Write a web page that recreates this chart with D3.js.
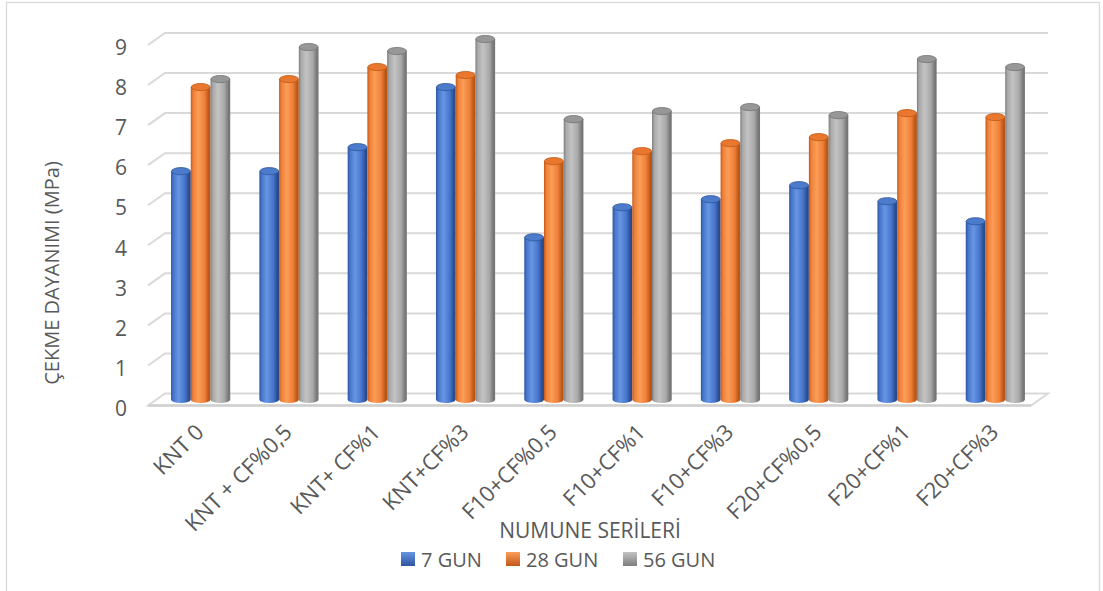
<!DOCTYPE html>
<html>
<head>
<meta charset="utf-8">
<script src="https://cdn.jsdelivr.net/npm/d3@7"></script>
<style>
  html, body { margin: 0; padding: 0; background: #fff; }
  svg { display: block; }
  text { font-family: "Open Sans", "Noto Sans", sans-serif; fill: #595959; }
</style>
</head>
<body>
<script>
// Tensile strength of specimen series at three curing ages
const categories = ["KNT 0", "KNT + CF%0,5", "KNT+ CF%1", "KNT+CF%3", "F10+CF%0,5",
                    "F10+CF%1", "F10+CF%3", "F20+CF%0,5", "F20+CF%1", "F20+CF%3"];
const seriesNames = ["7 GUN", "28 GUN", "56 GUN"];
const gun7  = [5.7, 5.7, 6.3, 7.8, 4.05, 4.8, 5.0, 5.35, 4.95, 4.45];
const gun28 = [7.8, 8.0, 8.3, 8.1, 5.95, 6.2, 6.4, 6.55, 7.15, 7.05];
const gun56 = [8.0, 8.8, 8.7, 9.0, 7.0, 7.2, 7.3, 7.1, 8.5, 8.3];
const yTicks = [0, 1, 2, 3, 4, 5, 6, 7, 8, 9];

const seriesValues = [gun7, gun28, gun56];

const W = 1103, H = 591;
const svg = d3.select("body").append("svg").attr("width", W).attr("height", H);

// palette per series: edge darks, highlight, mid, top face fill/stroke
const palettes = [
  { d0: "#2d549f", hi: "#6896e4", mid: "#4676cc", d1: "#294a8c", top: "#4d7bcc", topS: "#2f5597" },
  { d0: "#c2581a", hi: "#fb9d58", mid: "#ef8038", d1: "#b95516", top: "#e9772e", topS: "#bf5a17" },
  { d0: "#7d7d7d", hi: "#c3c3c3", mid: "#a9a9a9", d1: "#767676", top: "#979797", topS: "#747474" }
];

const defs = svg.append("defs");
palettes.forEach((p, i) => {
  const g = defs.append("linearGradient").attr("id", "cyl" + i)
    .attr("x1", "0%").attr("x2", "100%").attr("y1", "0%").attr("y2", "0%");
  [[0, p.d0], [0.12, p.mid], [0.38, p.hi], [0.7, p.mid], [0.92, p.d1], [1, p.d1]]
    .forEach(([o, c]) => g.append("stop").attr("offset", o).attr("stop-color", c));
  const lg = defs.append("linearGradient").attr("id", "leg" + i)
    .attr("x1", "0%").attr("x2", "0%").attr("y1", "0%").attr("y2", "100%");
  lg.append("stop").attr("offset", 0).attr("stop-color", p.hi);
  lg.append("stop").attr("offset", 1).attr("stop-color", p.d0);
});

// outer chart frame
svg.append("rect").attr("x", 6.5).attr("y", 2.5).attr("width", 1093).attr("height", 620)
  .attr("fill", "none").attr("stroke", "#d9d9d9").attr("stroke-width", 1.3);

// 3D geometry: back wall, depth offset
const backLeft = 165, backRight = 1048;
const depthX = 17, depthY = 12;

// back wall value scale
const yBack = d3.scaleLinear().domain([0, 9]).range([393.5, 33]);
// bars sit half-way in depth
const yMid = d3.scaleLinear().domain([0, 9]).range([393.5 + depthY / 2, 33 + depthY / 2]);

const x0 = d3.scaleBand().domain(categories)
  .range([backLeft - depthX / 2, backRight - depthX / 2])
  .paddingInner(0.33).paddingOuter(0.165);
const x1 = d3.scaleBand().domain(seriesNames).range([0, x0.bandwidth()]);

// gridlines on back wall + left side wall
const grid = svg.append("g").attr("stroke", "#d9d9d9").attr("stroke-width", 2).attr("fill", "none");
yTicks.filter(v => v > 0).forEach(v => {
  const y = yBack(v);
  grid.append("path").attr("d", `M${backLeft - depthX},${y + depthY}L${backLeft},${y}L${backRight},${y}`);
});
// floor
const fy = yBack(0);
grid.append("path")
  .attr("d", `M${backLeft - depthX},${fy + depthY}L${backLeft},${fy}L${backRight},${fy}L${backRight - depthX},${fy + depthY}Z`);
grid.append("line").attr("x1", backLeft - depthX).attr("x2", backRight - depthX)
  .attr("y1", fy + depthY).attr("y2", fy + depthY).attr("stroke", "#d0d0d0").attr("stroke-width", 2.4);

// value axis labels
const yAxis = d3.axisLeft(yBack).tickValues(yTicks).tickSize(0).tickPadding(0).tickFormat(d3.format("d"));
const yAxisG = svg.append("g").attr("transform", `translate(${backLeft - depthX - 21},${depthY + 3})`).call(yAxis);
yAxisG.select(".domain").remove();
yAxisG.selectAll("text").style("font-size", "21px").attr("fill", "#595959")
  .style("font-family", "'Open Sans', sans-serif");

// bars
const ry = 3.6;
categories.forEach((c, ci) => {
  seriesNames.forEach((s, si) => {
    const v = seriesValues[si][ci];
    const w = x1.bandwidth();
    const x = x0(c) + x1(s);
    const yt = yMid(v), yb = yMid(0);
    const p = palettes[si];
    const g = svg.append("g");
    g.append("path")
      .attr("d", `M${x},${yt}L${x},${yb}A${w / 2},${ry} 0 0 0 ${x + w},${yb}L${x + w},${yt}Z`)
      .attr("fill", `url(#cyl${si})`);
    g.append("ellipse").attr("cx", x + w / 2).attr("cy", yt).attr("rx", w / 2 - 0.4).attr("ry", ry)
      .attr("fill", p.top).attr("stroke", p.topS).attr("stroke-width", 0.8);
  });
});

// category labels
const xAxis = d3.axisBottom(x0).tickSize(0).tickPadding(0);
const xAxisG = svg.append("g").attr("transform", `translate(${depthX / 2 - 4},${fy + depthY + 28})`).call(xAxis);
xAxisG.select(".domain").remove();
xAxisG.selectAll("text")
  .style("font-size", "22px").attr("fill", "#595959").style("font-family", "'Open Sans', sans-serif")
  .attr("text-anchor", "end").attr("dy", 0).attr("y", 0)
  .attr("transform", "rotate(-45)");

// axis titles
svg.append("text").attr("transform", "translate(51,273) rotate(-90)")
  .attr("text-anchor", "middle").attr("dominant-baseline", "central")
  .style("font-size", "20px").text("ÇEKME DAYANIMI (MPa)");
svg.append("text").attr("x", 590).attr("y", 530)
  .attr("text-anchor", "middle").attr("dominant-baseline", "central")
  .style("font-size", "21px").text("NUMUNE SERİLERİ");

// legend
const legendX = [401, 506, 623];
const legend = svg.append("g");
seriesNames.forEach((s, i) => {
  legend.append("rect").attr("x", legendX[i]).attr("y", 552).attr("width", 14).attr("height", 14)
    .attr("fill", `url(#leg${i})`);
  legend.append("text").attr("x", legendX[i] + 20).attr("y", 559)
    .attr("dominant-baseline", "central").style("font-size", "20px").text(s);
});
</script>
</body>
</html>
